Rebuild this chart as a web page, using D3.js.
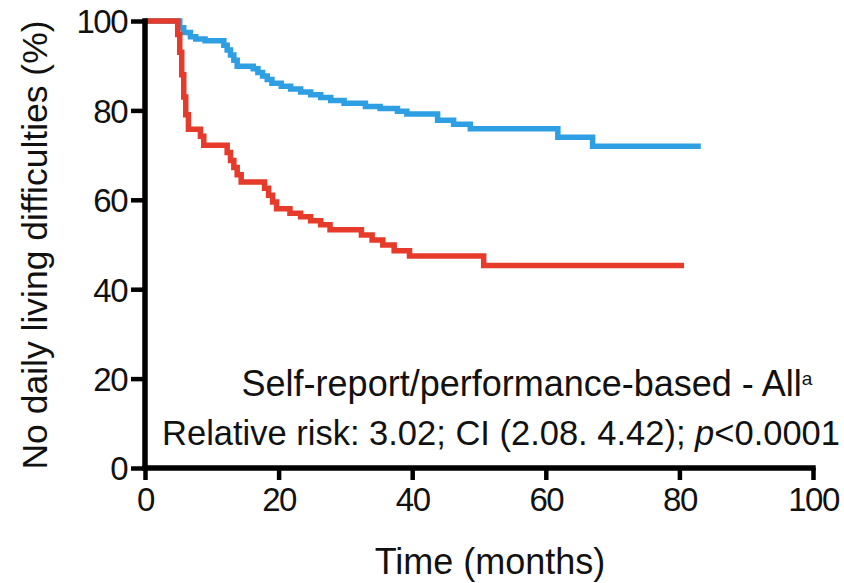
<!DOCTYPE html>
<html>
<head>
<meta charset="utf-8">
<script src="https://cdn.jsdelivr.net/npm/d3@7"></script>
<style>
  html, body { margin: 0; padding: 0; background: #fff; }
  svg { display: block; font-family: "Liberation Sans", Arial, Helvetica, sans-serif; }
</style>
</head>
<body>
<svg id="chart" width="844" height="583"></svg>
<script>
// ---- Data ----
const xTicks = [0, 20, 40, 60, 80, 100];
const yTicks = [0, 20, 40, 60, 80, 100];

const blueTime = [0, 5.2, 5.8, 6.8, 7.6, 9.0, 11.8, 12.3, 12.8, 13.3, 13.8, 16.2, 16.9, 17.6, 18.3, 19.0, 20.4, 21.8, 23.3, 24.8, 26.3, 27.8, 29.8, 33.0, 35.2, 37.8, 39.2, 43.8, 46.2, 48.7, 61.8, 67.0, 83.2];
const blueVal  = [100, 98.5, 97.4, 96.5, 96.0, 95.6, 94.6, 93.5, 92.4, 91.2, 89.9, 89.3, 88.5, 87.7, 86.9, 86.1, 85.4, 84.8, 84.1, 83.5, 82.9, 82.2, 81.6, 80.9, 80.4, 79.8, 79.2, 77.8, 76.9, 75.9, 74.0, 72.0, 72.0];

const redTime = [0, 4.9, 5.2, 5.5, 5.8, 6.1, 6.5, 8.3, 8.8, 12.3, 12.8, 13.3, 13.8, 14.4, 17.9, 18.5, 19.1, 19.7, 21.7, 23.3, 24.8, 26.3, 27.7, 32.4, 34.0, 35.6, 37.3, 39.6, 50.7, 80.7];
const redVal  = [100, 97, 93, 88, 83, 79, 75.8, 74.2, 72.2, 70.6, 68.8, 67.2, 65.6, 64.0, 62.6, 61.0, 59.5, 58.0, 57.0, 56.2, 55.3, 54.4, 53.3, 52.1, 51.0, 49.9, 48.6, 47.4, 45.3, 45.3];

const xTitle = "Time (months)";
const yTitle = "No daily living difficulties (%)";
const note1 = "Self-report/performance-based - All";
const note1Sup = "a";

// ---- Layout ----
const svg = d3.select("#chart");
const x = d3.scaleLinear().domain([0, 100]).range([145, 813]);
const y = d3.scaleLinear().domain([0, 100]).range([468, 21]);

const blueData = blueTime.map((t, i) => [t, blueVal[i]]);
const redData = redTime.map((t, i) => [t, redVal[i]]);

const line = d3.line().x(d => x(d[0])).y(d => y(d[1])).curve(d3.curveStepAfter);

svg.append("path").datum(blueData)
  .attr("d", line).attr("fill", "none")
  .attr("stroke", "#2e9fe2").attr("stroke-width", 5.5);
svg.append("path").datum(redData)
  .attr("d", line).attr("fill", "none")
  .attr("stroke", "#e63b2b").attr("stroke-width", 5.5);

// Axes
const xAxis = d3.axisBottom(x).tickValues(xTicks).tickSize(12).tickPadding(8);
const yAxis = d3.axisLeft(y).tickValues(yTicks).tickSize(14).tickPadding(4);

const gx = svg.append("g").attr("transform", `translate(0,${y(0)})`).call(xAxis);
const gy = svg.append("g").attr("transform", `translate(${x(0)},0)`).call(yAxis);

[gx, gy].forEach(g => {
  g.select(".domain").remove();
  g.selectAll(".tick line").attr("stroke", "#000").attr("stroke-width", 4.5);
  g.selectAll(".tick text")
    .attr("fill", "#111")
    .style("font-size", "33px")
    .style("letter-spacing", "-1.5px");
});
gy.selectAll(".tick text").attr("dy", "0.36em");

// axis lines
svg.append("line").attr("x1", x(0)).attr("x2", x(100)).attr("y1", y(0)).attr("y2", y(0))
  .attr("stroke", "#000").attr("stroke-width", 5.5).attr("stroke-linecap", "square");
svg.append("line").attr("x1", x(0)).attr("x2", x(0)).attr("y1", y(0)).attr("y2", y(100))
  .attr("stroke", "#000").attr("stroke-width", 5.5).attr("stroke-linecap", "square");

// Titles
svg.append("text").attr("x", 490).attr("y", 574)
  .attr("text-anchor", "middle").style("font-size", "36px").attr("fill", "#111")
  .text(xTitle);
svg.append("text").attr("transform", "translate(47,245) rotate(-90)")
  .attr("text-anchor", "middle").style("font-size", "35.5px").attr("fill", "#111")
  .text(yTitle);

// Annotation
const t1 = svg.append("text").attr("x", 527).attr("y", 396)
  .attr("text-anchor", "middle").style("font-size", "36px").attr("fill", "#111");
t1.append("tspan").text(note1);
t1.append("tspan").attr("dy", "-11").style("font-size", "19px").text(note1Sup);

const t2 = svg.append("text").attr("x", 501).attr("y", 445)
  .attr("text-anchor", "middle").style("font-size", "34.5px").attr("fill", "#111");
t2.append("tspan").text("Relative risk: 3.02; CI (2.08. 4.42); ");
t2.append("tspan").style("font-style", "italic").text("p");
t2.append("tspan").text("<0.0001");
</script>
</body>
</html>
